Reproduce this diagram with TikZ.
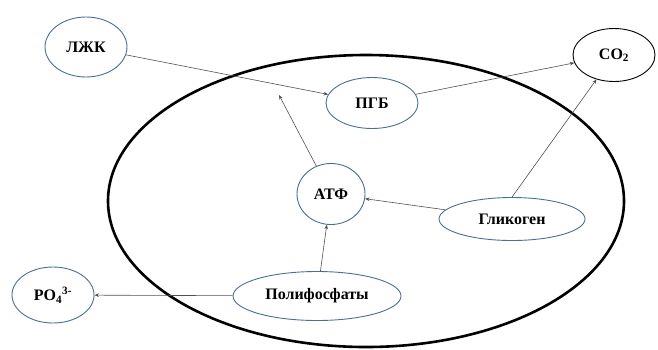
\documentclass[tikz,border=0pt]{standalone}
\usepackage{fontspec}
\setmainfont{Liberation Serif}
\usetikzlibrary{shapes.geometric,arrows.meta}
\definecolor{outl}{HTML}{4A6E96}
\definecolor{arr}{HTML}{505050}
\tikzset{
  blob/.style={ellipse, draw=outl, line width=0.9pt, inner sep=0pt, font=\fontsize{16}{18}\selectfont\bfseries},
  conn/.style={draw=arr, line width=0.6pt, -{Stealth[length=4.5pt,width=3.5pt]}},
}
\begin{document}
\begin{tikzpicture}[x=1pt,y=-1pt]
\useasboundingbox (0,0) rectangle (658,349);
\node[ellipse, draw=black, line width=2.6pt, minimum width=516pt, minimum height=292pt, inner sep=0pt] (cell) at (366,201) {};
\node[blob, minimum width=82pt, minimum height=60pt] (ljk) at (86,47) {ЛЖК};
\node[blob, minimum width=92pt, minimum height=51pt] (pgb) at (372,103) {ПГБ};
\node[blob, draw=black, minimum width=82pt, minimum height=53pt] (co2) at (614,55) {CO\textsubscript{2}};
\node[blob, minimum width=68pt, minimum height=61pt] (atf) at (331,194) {АТФ};
\node[blob, minimum width=146pt, minimum height=43pt] (glik) at (512,219) {Гликоген};
\node[blob, minimum width=168pt, minimum height=49pt] (poly) at (317,296) {Полифосфаты};
\node[blob, minimum width=82pt, minimum height=56pt] (po4) at (53,295) {PO\textsubscript{4}\textsuperscript{3-}};
\coordinate (j) at (279,95);
\draw[conn] (ljk) -- (pgb);
\draw[conn] (atf) -- (j);
\draw[conn] (pgb) -- (co2);
\draw[conn] (glik.north) -- (co2);
\draw[conn] (glik) -- (atf);
\draw[conn] (poly) -- (atf);
\draw[conn] (poly) -- (po4);
\end{tikzpicture}
\end{document}
